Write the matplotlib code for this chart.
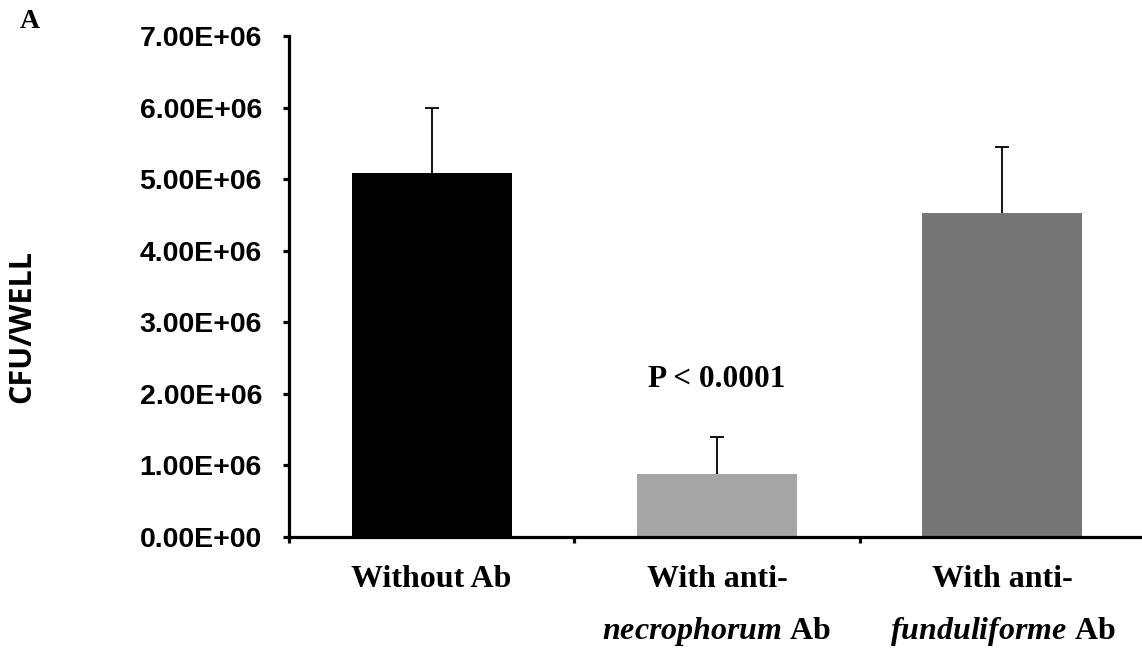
import matplotlib
matplotlib.use("Agg")
import matplotlib.pyplot as plt
from matplotlib.ticker import FuncFormatter

plt.rcParams['mathtext.fontset'] = 'custom'
plt.rcParams['mathtext.it'] = 'Liberation Serif:italic:bold'
plt.rcParams['mathtext.rm'] = 'Liberation Serif:bold'

groups = ['Without Ab', 'With anti-\n$necrophorum$ Ab', 'With anti-\n$funduliforme$ Ab']
cfu = [5.08e6, 0.88e6, 4.52e6]
sd = [0.91e6, 0.52e6, 0.93e6]
bar_colors = ['#000000', '#a6a6a6', '#767676']
yticks = [0, 1e6, 2e6, 3e6, 4e6, 5e6, 6e6, 7e6]

fig = plt.figure(figsize=(11.42, 6.51), dpi=100)
ax = fig.add_axes([289/1142, 1-537/651, (1145-289)/1142, (537-36)/651])

x = [1, 2, 3]
ax.bar(x, cfu, width=0.56, color=bar_colors, zorder=2)
_, caps, _ = ax.errorbar(x, cfu, yerr=[[0, 0, 0], sd], fmt='none', ecolor='black',
                         elinewidth=1.3, capsize=4.7, capthick=1.3, zorder=3)
# only the upper whisker gets a cap
for c in caps:
    if list(c.get_ydata()) == cfu:
        c.set_visible(False)

ax.set_xlim(0.5, 3.5)
ax.set_ylim(0, 7e6)

for s in ['top', 'right']:
    ax.spines[s].set_visible(False)
for s in ['left', 'bottom']:
    ax.spines[s].set_linewidth(2.3)

ax.set_yticks(yticks)
ax.yaxis.set_major_formatter(FuncFormatter(lambda v, p: f"{v:.2E}"))
ax.tick_params(axis='y', direction='out', length=4.5, width=2.3, pad=15)
for lab in ax.get_yticklabels():
    lab.set_fontfamily('Liberation Sans')
    lab.set_fontweight('bold')
    lab.set_fontsize(20.5)

# category boundaries as major ticks, names on minor ticks
ax.set_xticks([0.5, 1.5, 2.5, 3.5])
ax.set_xticklabels([])
ax.set_xticks(x, minor=True)
ax.set_xticklabels(groups, minor=True, fontfamily='Liberation Serif',
                   fontweight='bold', fontsize=23, linespacing=1.9, va='top')
ax.tick_params(axis='x', which='major', direction='out', length=4.5, width=2.3)
ax.tick_params(axis='x', which='minor', length=0, pad=20)

ax.set_ylabel('CFU/WELL', fontfamily='Open Sans', fontweight='bold', fontsize=22)
ax.yaxis.set_label_coords(-(289-22)/856, 0.42)
ax.yaxis.label.set_va('center')

ax.text(2, 2.09e6, 'P < 0.0001', ha='center', va='baseline',
        fontfamily='Liberation Serif', fontweight='bold', fontsize=22.5)

fig.text(20/1142, 1-28/651, 'A', fontfamily='Liberation Serif',
         fontweight='bold', fontsize=20, va='baseline')

fig.savefig('out.png', dpi=100, facecolor='white')
